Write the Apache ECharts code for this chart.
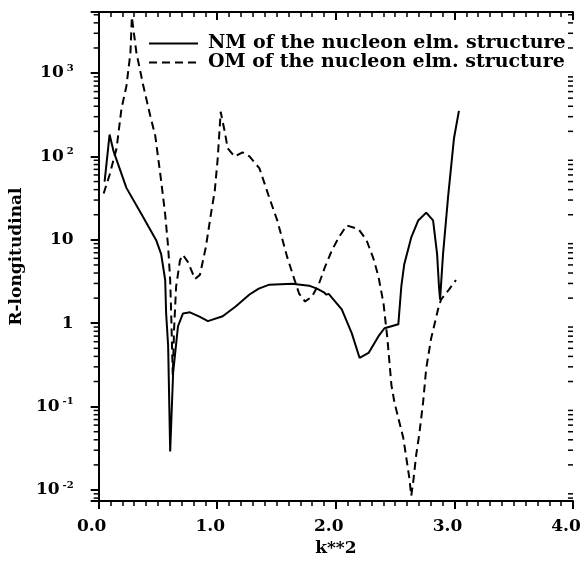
<!DOCTYPE html>
<html>
<head>
<meta charset="utf-8">
<script src="https://cdn.jsdelivr.net/npm/echarts@6/dist/echarts.min.js"></script>
<style>html,body{margin:0;padding:0;background:#fff;}#chart{width:586px;height:562px;}</style>
</head>
<body>
<div id="chart"></div>
<script>
// ---- data ----
var nmK2 = [0.05,0.092,0.126,0.234,0.377,0.485,0.527,0.561,0.569,0.586,0.603,0.628,0.669,0.711,0.77,0.85,0.921,1.046,1.155,1.272,1.35,1.439,1.632,1.774,1.841,1.90,1.92,1.94,1.97,2.05,2.134,2.20,2.276,2.36,2.41,2.527,2.552,2.577,2.636,2.695,2.762,2.82,2.854,2.870,2.879,2.904,2.946,2.996,3.038];
var nmR  = [50,183,115,42,18.5,9.9,6.75,3.3,1.31,0.53,0.029,0.256,0.92,1.31,1.35,1.2,1.06,1.21,1.59,2.21,2.6,2.9,2.98,2.82,2.6,2.35,2.2,2.25,2.0,1.47,0.76,0.385,0.44,0.70,0.87,0.97,2.74,5.1,10.7,17.1,21.2,17.1,6.75,2.74,1.92,6.75,32,164,352];
var omK2 = [0.042,0.092,0.151,0.192,0.234,0.268,0.28,0.318,0.377,0.435,0.477,0.527,0.561,0.586,0.603,0.611,0.619,0.625,0.636,0.653,0.686,0.711,0.753,0.812,0.854,0.904,0.946,0.979,1.004,1.029,1.063,1.088,1.146,1.213,1.272,1.356,1.439,1.506,1.59,1.649,1.69,1.741,1.799,1.858,1.908,1.967,2.025,2.092,2.192,2.259,2.318,2.36,2.402,2.435,2.469,2.494,2.527,2.569,2.594,2.619,2.636,2.653,2.678,2.703,2.72,2.736,2.762,2.803,2.862,2.887,2.954,3.013];
var omR  = [36,60,125,372,698,1763,4700,1763,698,308,178,50.9,20.1,8.2,3.3,1.4,0.5,0.24,0.85,2.74,5.7,6.6,5.4,3.4,3.8,8.2,20.1,38.7,95,343,199,125,100,112,100,72,32,17.1,6.2,3.4,2.27,1.82,2.09,2.98,4.7,7.5,10.7,14.9,13.4,9.9,5.9,3.6,1.73,0.65,0.18,0.113,0.073,0.042,0.0245,0.0142,0.0085,0.0127,0.0265,0.046,0.073,0.113,0.285,0.65,1.47,1.92,2.53,3.3];
var seriesNames = ['NM of the nucleon elm. structure', 'OM of the nucleon elm. structure'];
var xTickLabels = ['0.0','1.0','2.0','3.0','4.0'];
var yTickLabels = {'-2':'{b|10}{s|-2}','-1':'{b|10}{s|-1}','0':'{b|1}','1':'{b|10}','2':'{b|10}{s|2}','3':'{b|10}{s|3}'};
var xMin = 0, xMax = 4, yMin = 0.00736, yMax = 5400;

// minor tick values for the log axis (2..9 x 10^k)
var yMinor = [];
for (var k = -3; k <= 3; k++) for (var m = 2; m <= 9; m++) {
  var v = m * Math.pow(10, k);
  if (v > yMin && v < yMax) yMinor.push([0, v]);
}
function pairs(a, b) { return a.map(function (x, i) { return [x, b[i]]; }); }

var FONT = 'DejaVu Serif';
var chart = echarts.init(document.getElementById('chart'), null, {renderer: 'canvas'});
var axisLine = {lineStyle: {color: '#000', width: 2}};
var richY = {
  b: {fontFamily: FONT, fontWeight: 'bold', fontSize: 17, color: '#000'},
  s: {fontFamily: FONT, fontWeight: 'bold', fontSize: 10, color: '#000', padding: [0, 0, 10, 3]}
};
chart.setOption({
  backgroundColor: '#fff',
  animation: false,
  grid: {left: 95, right: 13, top: 12, bottom: 55, containLabel: false},
  legend: {
    orient: 'vertical', left: 143, top: 29, itemWidth: 49, itemHeight: 12, itemGap: 0,
    data: seriesNames,
    itemStyle: {opacity: 0},
    textStyle: {fontFamily: FONT, fontWeight: 'bold', fontSize: 19, color: '#000', padding: [0, 0, 0, 5]}
  },
  xAxis: [{
    type: 'value', min: xMin, max: xMax, interval: 1, position: 'bottom',
    axisLine: axisLine, splitLine: {show: false},
    axisTick: {inside: false, length: 8, lineStyle: {color: '#000', width: 2}},
    minorTick: {show: true, splitNumber: 10, length: 5, lineStyle: {color: '#000', width: 1.5}},
    axisLabel: {margin: 17, padding: [0, 14, 0, 0], fontFamily: FONT, fontWeight: 'bold', fontSize: 17, color: '#000',
      formatter: function (v) { return xTickLabels[Math.round(v)]; }},
    name: 'k**2', nameLocation: 'middle', nameGap: 33,
    nameTextStyle: {fontFamily: FONT, fontWeight: 'bold', fontSize: 17, color: '#000'}
  }, {
    type: 'value', min: xMin, max: xMax, interval: 1, position: 'top',
    axisLine: axisLine, splitLine: {show: false},
    axisTick: {inside: true, length: 8, lineStyle: {color: '#000', width: 2}},
    minorTick: {show: true, splitNumber: 10, length: 5, lineStyle: {color: '#000', width: 1.5}},
    axisLabel: {show: false}
  }],
  yAxis: [{
    type: 'log', logBase: 10, min: yMin, max: yMax, position: 'left',
    axisLine: axisLine, splitLine: {show: false},
    axisTick: {inside: false, length: 8, lineStyle: {color: '#000', width: 2}},
    axisLabel: {margin: 25, rich: richY,
      formatter: function (v) {
        var e = Math.log10(v); var r = Math.round(e);
        if (Math.abs(e - r) > 1e-6) return '';
        return yTickLabels[String(r)] || '';
      }},
    name: 'R-longitudinal', nameLocation: 'middle', nameGap: 67, nameRotate: 90,
    nameTextStyle: {fontFamily: FONT, fontWeight: 'bold', fontSize: 17, color: '#000'}
  }, {
    type: 'log', logBase: 10, min: yMin, max: yMax, position: 'right',
    axisLine: axisLine, splitLine: {show: false},
    axisTick: {inside: true, length: 8, lineStyle: {color: '#000', width: 2}},
    axisLabel: {show: false}
  }],
  series: [{
    name: seriesNames[0], type: 'line', xAxisIndex: 0, yAxisIndex: 0,
    data: pairs(nmK2, nmR), showSymbol: false, symbol: 'none',
    lineStyle: {color: '#000', width: 2, type: 'solid'}, itemStyle: {color: '#000'}
  }, {
    name: seriesNames[1], type: 'line', xAxisIndex: 0, yAxisIndex: 0,
    data: pairs(omK2, omR), showSymbol: false, symbol: 'none',
    lineStyle: {color: '#000', width: 2, type: [8, 5]}, itemStyle: {color: '#000'}
  }, {
    type: 'custom', xAxisIndex: 0, yAxisIndex: 0, silent: true, clip: false,
    data: yMinor, encode: {x: 0, y: 1},
    renderItem: function (params, api) {
      var y = api.coord([0, api.value(1)])[1];
      var cs = params.coordSys;
      var st = {stroke: '#000', lineWidth: 1.5};
      return {type: 'group', children: [
        {type: 'line', shape: {x1: cs.x - 5, y1: y, x2: cs.x, y2: y}, style: st},
        {type: 'line', shape: {x1: cs.x + cs.width - 5, y1: y, x2: cs.x + cs.width, y2: y}, style: st}
      ]};
    }
  }]
});
</script>
</body>
</html>
